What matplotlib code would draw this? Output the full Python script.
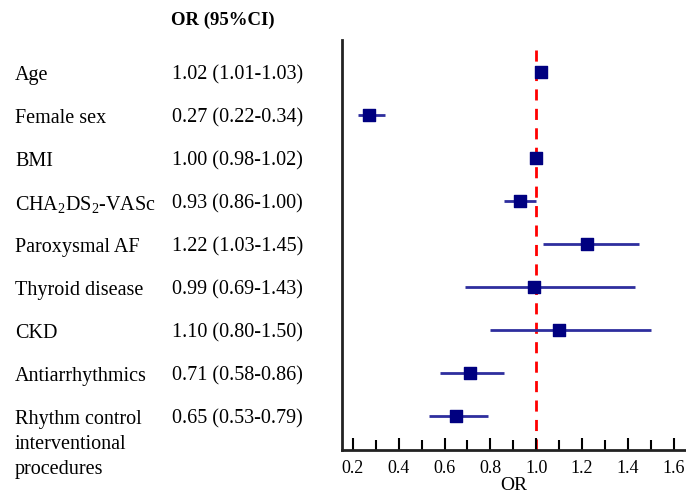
import matplotlib
matplotlib.use("Agg")
import matplotlib.pyplot as plt
from matplotlib.ticker import MultipleLocator
from matplotlib.transforms import blended_transform_factory

plt.rcParams['font.family'] = ['Liberation Serif', 'DejaVu Serif']
plt.rcParams['mathtext.fontset'] = 'custom'
plt.rcParams['mathtext.rm'] = 'Liberation Serif'

# data
labels = ['Age', 'Female sex', 'BMI', 'CHA$\\mathrm{_2}$DS$\\mathrm{_2}$-VASc', 'Paroxysmal AF',
          'Thyroid disease', 'CKD', 'Antiarrhythmics',
          'Rhythm control\ninterventional\nprocedures']
odds = [1.02, 0.27, 1.00, 0.93, 1.22, 0.99, 1.10, 0.71, 0.65]
ci_low = [1.01, 0.22, 0.98, 0.86, 1.03, 0.69, 0.80, 0.58, 0.53]
ci_high = [1.03, 0.34, 1.02, 1.00, 1.45, 1.43, 1.50, 0.86, 0.79]

W, H = 686, 496
fig = plt.figure(figsize=(W / 100, H / 100), dpi=100)
ax = fig.add_axes([342 / W, 1 - 450 / H, (685 - 342) / W, (450 - 40) / H])

ypos = list(range(len(labels)))
ax.hlines(ypos, ci_low, ci_high, color='#2e2e9e', lw=2, zorder=2)
ax.scatter(odds, ypos, marker='s', s=72, color='#000080', zorder=3)
ax.axvline(1.0, color='red', lw=2, ls=(0, (4, 3)), ymax=0.995, zorder=1)

ax.set_xlim(0.152, 1.65)
ax.set_ylim(8.79, -0.744)
ax.xaxis.set_major_locator(MultipleLocator(0.2))
ax.xaxis.set_minor_locator(MultipleLocator(0.1))
ax.xaxis.set_major_formatter(matplotlib.ticker.FormatStrFormatter('%.1f'))
ax.tick_params(axis='x', which='major', direction='in', length=9, width=1.5,
               labelsize=13, pad=7)
ax.tick_params(axis='x', which='minor', direction='in', length=7, width=1.5)
ax.set_yticks([])
for s in ['top', 'right']:
    ax.spines[s].set_visible(False)
for s in ['left', 'bottom']:
    ax.spines[s].set_linewidth(2)
    ax.spines[s].set_color('#222222')
ax.set_xlabel('OR', fontsize=14, labelpad=0)

tr = blended_transform_factory(fig.transFigure, ax.transData)
shift = 0.07
for i, lab in enumerate(labels):
    if '\n' in lab:
        fig.text(15 / W, i - 0.22 + shift, lab, transform=tr, fontsize=14.5, va='top',
                 linespacing=1.45)
    else:
        fig.text(15 / W, i + shift, lab, transform=tr, fontsize=14.5, va='center')
    fig.text(172 / W, i + shift, f"{odds[i]:.2f} ({ci_low[i]:.2f}-{ci_high[i]:.2f})",
             transform=tr, fontsize=14.5, va='center')

fig.text(223 / W, 1 - 20 / H, 'OR (95%CI)', fontsize=13.5, fontweight='bold',
         ha='center', va='center')

fig.savefig('out.png', dpi=100)
